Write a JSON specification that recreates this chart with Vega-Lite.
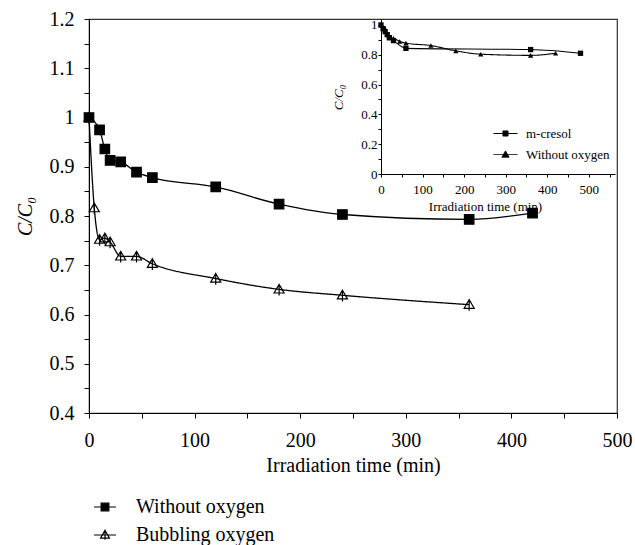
{
  "$schema": "https://vega.github.io/schema/vega-lite/v6.json",
  "width": 528,
  "height": 394,
  "autosize": {"type": "none"},
  "padding": {"left": 89, "top": 19, "right": 18, "bottom": 132},
  "config": {
    "font": "Liberation Serif",
    "view": {"stroke": "#333", "strokeWidth": 1.2},
    "axis": {"grid": false, "domainColor": "black", "tickColor": "black", "labelColor": "black", "titleColor": "black", "titleFontWeight": "normal", "labelFont": "Liberation Serif", "titleFont": "Liberation Serif", "labelFlush": false, "labelOverlap": false},
    "legend": {"labelFont": "Liberation Serif", "labelColor": "black", "symbolStrokeColor": "black"}
  },
  "datasets": {
    "main": [
      {"t": 0, "c": 1.0, "series": "Without oxygen"},
      {"t": 10, "c": 0.975, "series": "Without oxygen"},
      {"t": 15, "c": 0.936, "series": "Without oxygen"},
      {"t": 20, "c": 0.913, "series": "Without oxygen"},
      {"t": 30, "c": 0.91, "series": "Without oxygen"},
      {"t": 45, "c": 0.889, "series": "Without oxygen"},
      {"t": 60, "c": 0.878, "series": "Without oxygen"},
      {"t": 120, "c": 0.859, "series": "Without oxygen"},
      {"t": 180, "c": 0.824, "series": "Without oxygen"},
      {"t": 240, "c": 0.803, "series": "Without oxygen"},
      {"t": 360, "c": 0.793, "series": "Without oxygen"},
      {"t": 420, "c": 0.806, "series": "Without oxygen"},
      {"t": 0, "c": 1.0, "series": "Bubbling oxygen"},
      {"t": 5, "c": 0.816, "series": "Bubbling oxygen"},
      {"t": 10, "c": 0.752, "series": "Bubbling oxygen"},
      {"t": 15, "c": 0.755, "series": "Bubbling oxygen"},
      {"t": 20, "c": 0.747, "series": "Bubbling oxygen"},
      {"t": 30, "c": 0.718, "series": "Bubbling oxygen"},
      {"t": 45, "c": 0.718, "series": "Bubbling oxygen"},
      {"t": 60, "c": 0.703, "series": "Bubbling oxygen"},
      {"t": 120, "c": 0.673, "series": "Bubbling oxygen"},
      {"t": 180, "c": 0.651, "series": "Bubbling oxygen"},
      {"t": 240, "c": 0.639, "series": "Bubbling oxygen"},
      {"t": 360, "c": 0.62, "series": "Bubbling oxygen"}
    ],
    "inset": [
      {"t": 0, "c": 1.0, "series": "m-cresol"},
      {"t": 5, "c": 0.975, "series": "m-cresol"},
      {"t": 10, "c": 0.955, "series": "m-cresol"},
      {"t": 15, "c": 0.935, "series": "m-cresol"},
      {"t": 20, "c": 0.915, "series": "m-cresol"},
      {"t": 30, "c": 0.895, "series": "m-cresol"},
      {"t": 60, "c": 0.843, "series": "m-cresol"},
      {"t": 360, "c": 0.835, "series": "m-cresol"},
      {"t": 480, "c": 0.81, "series": "m-cresol"},
      {"t": 0, "c": 1.0, "series": "Without oxygen"},
      {"t": 10, "c": 0.975, "series": "Without oxygen"},
      {"t": 15, "c": 0.936, "series": "Without oxygen"},
      {"t": 20, "c": 0.913, "series": "Without oxygen"},
      {"t": 30, "c": 0.91, "series": "Without oxygen"},
      {"t": 45, "c": 0.889, "series": "Without oxygen"},
      {"t": 60, "c": 0.878, "series": "Without oxygen"},
      {"t": 120, "c": 0.862, "series": "Without oxygen"},
      {"t": 180, "c": 0.826, "series": "Without oxygen"},
      {"t": 240, "c": 0.804, "series": "Without oxygen"},
      {"t": 360, "c": 0.796, "series": "Without oxygen"},
      {"t": 420, "c": 0.81, "series": "Without oxygen"}
    ]
  },
  "layer": [
    {
      "data": {"name": "main"},
      "encoding": {
        "x": {"field": "t", "type": "quantitative", "scale": {"domain": [0, 500], "nice": false},
          "axis": {"orient": "bottom", "title": "Irradiation time (min)", "values": [0, 50, 100, 150, 200, 250, 300, 350, 400, 450, 500],
            "labelExpr": "datum.value % 100 === 0 ? datum.label : ''", "tickSize": 5, "labelPadding": 12, "labelFontSize": 20, "titleFontSize": 20, "titleY": 52, "titleBaseline": "middle"}},
        "y": {"field": "c", "type": "quantitative", "scale": {"domain": [0.4, 1.2], "nice": false, "zero": false},
          "axis": {"orient": "left", "title": "C/C₀", "values": [0.4, 0.45, 0.5, 0.55, 0.6, 0.65, 0.7, 0.75, 0.8, 0.85, 0.9, 0.95, 1.0, 1.05, 1.1, 1.15, 1.2],
            "labelExpr": "abs(round(datum.value * 10) - datum.value * 10) < 0.01 ? format(datum.value, '~g') : ''",
            "tickSize": 5, "labelPadding": 10, "labelFontSize": 20, "titleFontSize": 20, "titleFontStyle": "italic",
            "titleX": -64, "titleY": 197, "titleAngle": 270, "titleAlign": "center", "titleBaseline": "middle"}}
      },
      "layer": [
        {
          "transform": [{"filter": "datum.series === 'Without oxygen'"}],
          "mark": {"type": "line", "interpolate": "monotone", "strokeWidth": 1.3},
          "encoding": {
            "color": {"field": "series", "type": "nominal", "scale": {"domain": ["Without oxygen"], "range": ["black"]},
              "legend": {"orient": "none", "legendX": 6, "legendY": 478, "title": null, "symbolType": "M-2,0H2M-0.7,-0.7H0.7V0.7H-0.7Z", "symbolSize": 121, "symbolFillColor": "black", "symbolStrokeColor": "black", "symbolStrokeWidth": 1.2, "labelFontSize": 20, "labelOffset": 21, "labelLimit": 400}}
          }
        },
        {
          "transform": [{"filter": "datum.series === 'Bubbling oxygen'"}],
          "mark": {"type": "line", "interpolate": "monotone", "strokeWidth": 1.3, "color": "black"},
          "encoding": {
            "strokeDash": {"field": "series", "type": "nominal", "scale": {"domain": ["Bubbling oxygen"], "range": [[1, 0]]},
              "legend": {"orient": "none", "legendX": 6, "legendY": 506, "title": null, "symbolType": "M-2,0H2M0,-0.85L0.8,0.55L-0.8,0.55ZM0,-0.85V0.85", "symbolSize": 121, "symbolFillColor": "transparent", "symbolStrokeColor": "black", "symbolStrokeWidth": 1.2, "labelFontSize": 20, "labelOffset": 21, "labelLimit": 400}}
          }
        },
        {
          "mark": {"type": "point", "filled": true, "stroke": "black", "strokeWidth": 1.2, "opacity": 1},
          "encoding": {
            "shape": {"field": "series", "type": "nominal",
              "scale": {"domain": ["Without oxygen", "Bubbling oxygen"], "range": ["square", "M0,-0.9L0.9,0.65L-0.9,0.65ZM0,-0.9L0,1.1"]}, "legend": null},
            "fill": {"field": "series", "type": "nominal", "scale": {"domain": ["Without oxygen", "Bubbling oxygen"], "range": ["black", "transparent"]}, "legend": null},
            "size": {"field": "series", "type": "nominal", "scale": {"domain": ["Without oxygen", "Bubbling oxygen"], "range": [90, 125]}, "legend": null}
          }
        }
      ]
    },
    {
      "data": {"name": "inset"},
      "encoding": {
        "x": {"field": "t", "type": "quantitative", "scale": {"domain": [0, 563], "range": [292, 526], "nice": false},
          "axis": {"orient": "bottom", "offset": -239, "title": "Irradiation time (min)", "values": [0, 50, 100, 150, 200, 250, 300, 350, 400, 450, 500, 550],
            "labelExpr": "datum.value % 100 === 0 && datum.value <= 500 ? datum.label : ''", "tickSize": 3, "labelPadding": 6, "labelFontSize": 13, "titleFontSize": 13,
            "titleX": 396, "titleY": 32, "titleBaseline": "middle"}},
        "y": {"field": "c", "type": "quantitative", "scale": {"domain": [0, 1.04], "range": [155, 0], "nice": false},
          "axis": {"orient": "left", "offset": -292, "title": "C/C₀", "values": [0, 0.1, 0.2, 0.3, 0.4, 0.5, 0.6, 0.7, 0.8, 0.9, 1.0],
            "labelExpr": "round(datum.value * 10) % 2 === 0 ? format(datum.value, '~g') : ''",
            "tickSize": 3, "labelPadding": 1, "labelFontSize": 13, "titleFontSize": 13, "titleFontStyle": "italic",
            "titleX": -43, "titleY": 78, "titleAngle": 270, "titleAlign": "center", "titleBaseline": "middle"}}
      },
      "layer": [
        {
          "transform": [{"filter": "datum.series === 'm-cresol'"}],
          "mark": {"type": "line", "interpolate": "monotone", "strokeWidth": 1.1},
          "encoding": {
            "color": {"field": "series", "type": "nominal", "scale": {"domain": ["m-cresol"], "range": ["black"]},
              "legend": {"orient": "none", "legendX": 410, "legendY": 108, "title": null, "symbolType": "M-2,0H2M-0.42,-0.42H0.42V0.42H-0.42Z", "symbolSize": 144, "symbolFillColor": "black", "symbolStrokeColor": "black", "symbolStrokeWidth": 1, "labelFontSize": 13, "labelOffset": 14, "labelLimit": 300}}
          }
        },
        {
          "transform": [{"filter": "datum.series === 'Without oxygen'"}],
          "mark": {"type": "line", "interpolate": "monotone", "strokeWidth": 1.1, "color": "black"},
          "encoding": {
            "strokeDash": {"field": "series", "type": "nominal", "scale": {"domain": ["Without oxygen"], "range": [[1, 0]]},
              "legend": {"orient": "none", "legendX": 410, "legendY": 129, "title": null, "symbolType": "M-2,0H2M0,-0.6L0.6,0.45L-0.6,0.45Z", "symbolSize": 144, "symbolFillColor": "black", "symbolStrokeColor": "black", "symbolStrokeWidth": 1, "labelFontSize": 13, "labelOffset": 14, "labelLimit": 300}}
          }
        },
        {
          "mark": {"type": "point", "filled": true, "color": "black", "opacity": 1},
          "encoding": {
            "shape": {"field": "series", "type": "nominal",
              "scale": {"domain": ["m-cresol", "Without oxygen"], "range": ["square", "triangle-up"]}, "legend": null},
            "size": {"value": 28}
          }
        }
      ]
    }
  ],
  "resolve": {
    "scale": {"x": "independent", "y": "independent", "shape": "independent", "fill": "independent", "size": "independent", "color": "independent", "strokeDash": "independent"},
    "axis": {"x": "independent", "y": "independent"},
    "legend": {"color": "independent", "strokeDash": "independent"}
  }
}
